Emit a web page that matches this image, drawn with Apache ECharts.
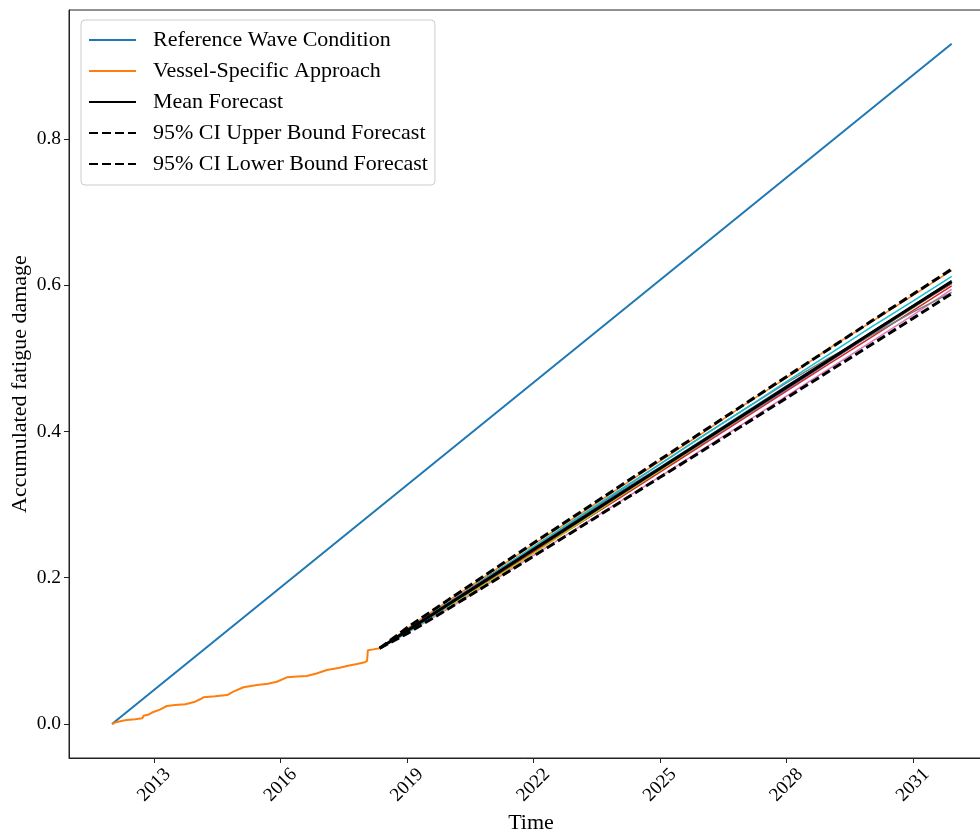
<!DOCTYPE html>
<html>
<head>
<meta charset="utf-8">
<script src="https://cdn.jsdelivr.net/npm/echarts@6/dist/echarts.min.js"></script>
<style>
  html, body { margin: 0; padding: 0; background: #fff; }
  #chart { width: 980px; height: 834px; }
</style>
</head>
<body>
<div id="chart"></div>
<script>
// Time is expressed in decimal years.
const xTicks = [2013, 2016, 2019, 2022, 2025, 2028, 2031];
const yTicks = [0.0, 0.2, 0.4, 0.6, 0.8];

// Reference wave condition: straight accumulation over the whole period
const refYears = [2012.0, 2031.92];
const refDamage = [0.0, 0.93];

// Vessel-specific (measured) accumulated damage, stepwise
const vesselYears = [2012.00, 2012.10, 2012.25, 2012.35, 2012.55, 2012.72, 2012.75, 2012.85, 2012.93, 2013.00,
  2013.15, 2013.30, 2013.50, 2013.74, 2013.95, 2014.09, 2014.17, 2014.45, 2014.73, 2014.88,
  2015.12, 2015.30, 2015.44, 2015.70, 2015.91, 2016.15, 2016.40, 2016.62, 2016.85, 2017.10,
  2017.40, 2017.60, 2017.81, 2018.00, 2018.05, 2018.07, 2018.20, 2018.35];
const vesselDamage = [0.0000, 0.0025, 0.0045, 0.0055, 0.0065, 0.0078, 0.0113, 0.0125, 0.0150, 0.0168,
  0.0200, 0.0246, 0.0258, 0.0269, 0.0300, 0.0338, 0.0365, 0.0378, 0.0396, 0.0442,
  0.0502, 0.0520, 0.0533, 0.0550, 0.0578, 0.0638, 0.0648, 0.0656, 0.0690, 0.0738,
  0.0770, 0.0795, 0.0820, 0.0845, 0.0861, 0.1008, 0.1020, 0.1035];

// Forecast horizon
const fcYears = [2018.35, 2019, 2020, 2021, 2022, 2023, 2024, 2025, 2026, 2027, 2028, 2029, 2030, 2031, 2031.92];
const fcMean  = [0.1035, 0.1275, 0.1645, 0.2014, 0.2384, 0.2753, 0.3123, 0.3493, 0.3862, 0.4232, 0.4602, 0.4971, 0.5341, 0.5710, 0.6050];
const fcUpper = [0.1035, 0.1315, 0.1707, 0.2091, 0.2474, 0.2854, 0.3234, 0.3614, 0.3992, 0.4370, 0.4748, 0.5124, 0.5501, 0.5875, 0.6218];
const fcLower = [0.1035, 0.1235, 0.1583, 0.1937, 0.2294, 0.2652, 0.3012, 0.3372, 0.3732, 0.4094, 0.4456, 0.4818, 0.5181, 0.5545, 0.5883];

// Individual forecast realisations
const runBlue   = [0.1035, 0.1285, 0.1665, 0.2044, 0.2414, 0.2783, 0.3153, 0.3513, 0.3882, 0.4252, 0.4622, 0.4981, 0.5351, 0.5720, 0.6060];
const runOrange = [0.1035, 0.1305, 0.1695, 0.2074, 0.2454, 0.2833, 0.3213, 0.3593, 0.3972, 0.4362, 0.4732, 0.5131, 0.5491, 0.5860, 0.6200];
const runGreen  = [0.1035, 0.1265, 0.1625, 0.1984, 0.2354, 0.2713, 0.3083, 0.3453, 0.3832, 0.4202, 0.4572, 0.4951, 0.5321, 0.5690, 0.6030];
const runRed    = [0.1035, 0.1275, 0.1635, 0.1994, 0.2354, 0.2713, 0.3073, 0.3443, 0.3812, 0.4182, 0.4552, 0.4921, 0.5281, 0.5650, 0.5990];
const runPurple = [0.1035, 0.1275, 0.1655, 0.2024, 0.2384, 0.2743, 0.3103, 0.3473, 0.3832, 0.4202, 0.4572, 0.4951, 0.5321, 0.5700, 0.6030];
const runBrown  = [0.1035, 0.1285, 0.1655, 0.2014, 0.2374, 0.2743, 0.3103, 0.3483, 0.3852, 0.4232, 0.4612, 0.4981, 0.5341, 0.5700, 0.6020];
const runPink   = [0.1035, 0.1245, 0.1585, 0.1944, 0.2304, 0.2663, 0.3023, 0.3383, 0.3752, 0.4112, 0.4482, 0.4851, 0.5221, 0.5590, 0.5940];
const runGray   = [0.1035, 0.1285, 0.1665, 0.2034, 0.2414, 0.2793, 0.3173, 0.3553, 0.3932, 0.4302, 0.4662, 0.5001, 0.5311, 0.5630, 0.5900];
const runOlive  = [0.1035, 0.1255, 0.1605, 0.1964, 0.2334, 0.2713, 0.3093, 0.3463, 0.3842, 0.4212, 0.4592, 0.4971, 0.5341, 0.5710, 0.6050];
const runCyan   = [0.1035, 0.1245, 0.1625, 0.2034, 0.2424, 0.2803, 0.3183, 0.3553, 0.3932, 0.4302, 0.4682, 0.5051, 0.5421, 0.5780, 0.6120];

const runs = [
  ['#1f77b4', runBlue], ['#ff7f0e', runOrange], ['#2ca02c', runGreen], ['#d62728', runRed],
  ['#9467bd', runPurple], ['#8c564b', runBrown], ['#e377c2', runPink], ['#7f7f7f', runGray],
  ['#bcbd22', runOlive], ['#17becf', runCyan]
];

const pairs = (xs, ys) => xs.map((x, i) => [x, ys[i]]);
const FONT = '"Liberation Serif", "Times New Roman", serif';

const series = [];
runs.forEach(([color, vals], i) => {
  series.push({
    name: 'run' + i, type: 'line', data: pairs(fcYears, vals),
    symbol: 'none', lineStyle: { color, width: 1.5 }, z: 2, silent: true
  });
});
series.push(
  { name: 'Reference Wave Condition', type: 'line', data: pairs(refYears, refDamage),
    symbol: 'none', color: '#1f77b4', lineStyle: { color: '#1f77b4', width: 2 }, z: 3 },
  { name: 'Vessel-Specific Approach', type: 'line', data: pairs(vesselYears, vesselDamage),
    symbol: 'none', color: '#ff7f0e', lineStyle: { color: '#ff7f0e', width: 2 }, z: 3 },
  { name: 'Mean Forecast', type: 'line', data: pairs(fcYears, fcMean),
    symbol: 'none', color: '#000', lineStyle: { color: '#000', width: 3 }, z: 4 },
  { name: '95% CI Upper Bound Forecast', type: 'line', data: pairs(fcYears, fcUpper),
    symbol: 'none', color: '#000', lineStyle: { color: '#000', width: 3, type: [9, 4] }, z: 5 },
  { name: '95% CI Lower Bound Forecast', type: 'line', data: pairs(fcYears, fcLower),
    symbol: 'none', color: '#000', lineStyle: { color: '#000', width: 3, type: [9, 4] }, z: 5 }
);

const chart = echarts.init(document.getElementById('chart'), null, { renderer: 'canvas' });
chart.setOption({
  animation: false,
  backgroundColor: '#fff',
  grid: { left: 69, right: -13, top: 10, bottom: 76, show: true, borderColor: '#222', borderWidth: 1,
    containLabel: false, outerBoundsMode: 'none' },
  xAxis: {
    type: 'value', min: 2010.98, max: 2032.9,
    name: 'Time', nameLocation: 'middle', nameGap: 54,
    nameTextStyle: { fontFamily: FONT, fontSize: 22, color: '#000' },
    axisLine: { show: true, onZero: false, lineStyle: { color: '#222', width: 1 } },
    axisTick: { show: true, length: 5, inside: false, lineStyle: { color: '#222' }, customValues: xTicks },
    axisLabel: { rotate: 45, align: 'center', verticalAlign: 'middle', fontFamily: FONT, fontSize: 19, color: '#000', margin: 27,
      customValues: xTicks, formatter: v => String(Math.round(v)) },
    splitLine: { show: false }
  },
  yAxis: {
    type: 'value', min: -0.0465, max: 0.9761,
    name: 'Accumulated fatigue damage', nameLocation: 'middle', nameGap: 38, nameRotate: 90,
    nameMoveOverlap: false,
    nameTextStyle: { fontFamily: FONT, fontSize: 22, color: '#000' },
    axisLine: { show: true, onZero: false, lineStyle: { color: '#222', width: 1 } },
    axisTick: { show: true, length: 5, inside: false, lineStyle: { color: '#222' }, customValues: yTicks },
    axisLabel: { fontFamily: FONT, fontSize: 19.5, color: '#000', margin: 8,
      customValues: yTicks, formatter: v => v.toFixed(1) },
    splitLine: { show: false }
  },
  legend: {
    data: ['Reference Wave Condition', 'Vessel-Specific Approach', 'Mean Forecast',
           '95% CI Upper Bound Forecast', '95% CI Lower Bound Forecast'],
    orient: 'vertical', left: 81, top: 20,
    padding: [9, 7, 10, 7],
    itemWidth: 47, itemHeight: 14, itemGap: 9,
    itemStyle: { opacity: 0, color: 'rgba(0,0,0,0)', borderWidth: 0 },
    backgroundColor: 'rgba(255,255,255,0.85)', borderColor: '#cccccc', borderWidth: 1, borderRadius: 4,
    textStyle: { fontFamily: FONT, fontSize: 22, color: '#000', lineHeight: 22, padding: [0, 0, 0, 12] },
    selectedMode: false
  },
  series
});
</script>
</body>
</html>
